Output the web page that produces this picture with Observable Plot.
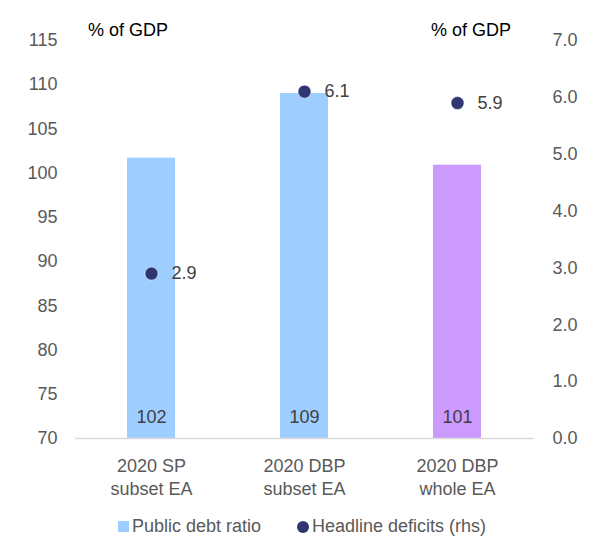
<!DOCTYPE html>
<html>
<head>
<meta charset="utf-8">
<script src="https://cdn.jsdelivr.net/npm/d3@7"></script>
<script src="https://cdn.jsdelivr.net/npm/@observablehq/plot@0.6"></script>
<style>
  body { margin: 0; background: #fff; font-family: "Liberation Sans", Arial, sans-serif; }
  #wrap { position: relative; width: 592px; }
  .unit { position: absolute; top: 20px; font-size: 18px; color: #000; }
  #legend { display: flex; justify-content: center; gap: 36px; font-size: 18px; color: #595959; margin-top: 14px; padding-left: 12px; }
  #legend span.item { display: flex; align-items: center; gap: 3px; }
  .sw { display: inline-block; width: 11px; height: 11px; }
  .dot { display: inline-block; width: 12px; height: 12px; border-radius: 50%; }
</style>
</head>
<body>
<div id="wrap">
  <div class="unit" style="left:88px">% of GDP</div>
  <div class="unit" style="left:431px">% of GDP</div>
  <div id="chart"></div>
  <div id="legend"></div>
</div>
<script>
// Public debt ratio and headline deficit, % of GDP
const categories = ["2020 SP\nsubset EA", "2020 DBP\nsubset EA", "2020 DBP\nwhole EA"];
const debtRatio = [101.7, 109.0, 100.9];
const deficits = [2.9, 6.1, 5.9];
const barColors = ["#9DCEFF", "#9DCEFF", "#CC99FF"];
const leftTicks = [70, 75, 80, 85, 90, 95, 100, 105, 110, 115];
const rightTicks = [0, 1, 2, 3, 4, 5, 6, 7];

const seriesNames = ["Public debt ratio", "Headline deficits (rhs)"];
const dotColor = "#2F3670";

// left axis 70–115, right axis 0–7 mapped onto it
const yMin = 70, yMax = 115, rMin = 0, rMax = 7;
const toLeft = v => yMin + (v - rMin) * (yMax - yMin) / (rMax - rMin);

const rows = categories.map((c, i) => ({
  cat: c, debt: debtRatio[i], deficit: deficits[i], color: barColors[i]
}));

const chart = Plot.plot({
  width: 592,
  height: 502,
  marginLeft: 75,
  marginRight: 58,
  marginTop: 40,
  marginBottom: 64,
  style: { fontFamily: "Liberation Sans, Arial, sans-serif", fontSize: "18px", color: "#595959" },
  x: { domain: categories, paddingInner: 0.686, paddingOuter: 0.343, align: 0.5, axis: null, label: null },
  y: { domain: [yMin, yMax], axis: null, label: null },
  marks: [
    Plot.barY(rows, { x: "cat", y1: yMin, y2: "debt", fill: "color" }),
    Plot.ruleY([yMin], { stroke: "#D9D9D9", strokeWidth: 1.5 }),
    Plot.axisY(leftTicks, { anchor: "left", label: null, tickSize: 0, tickPadding: 18, fill: "#595959", fontSize: 18 }),
    Plot.axisY(rightTicks.map(toLeft), {
      anchor: "right", label: null, tickSize: 0, tickPadding: 18, fill: "#595959", fontSize: 18,
      tickFormat: d => d3.format(".1f")((d - yMin) * (rMax - rMin) / (yMax - yMin))
    }),
    Plot.axisX({ anchor: "bottom", label: null, tickSize: 0, tickPadding: 17, lineHeight: 1.27, fill: "#595959", fontSize: 18 }),
    Plot.text(rows, { x: "cat", y: () => yMin, dy: -21, text: d => d3.format(".0f")(d.debt), fill: "#404040", fontSize: 18 }),
    Plot.dot(rows, { x: "cat", y: d => toLeft(d.deficit), r: 6.5, fill: dotColor, stroke: "#fff", strokeWidth: 0.5 }),
    Plot.text(rows, { x: "cat", y: d => toLeft(d.deficit), dx: 20, text: d => d3.format(".1f")(d.deficit), textAnchor: "start", fill: "#404040", fontSize: 18 })
  ]
});
document.getElementById("chart").appendChild(chart);

const legend = document.getElementById("legend");
legend.innerHTML =
  `<span class="item"><span class="sw" style="background:${barColors[0]}"></span>${seriesNames[0]}</span>` +
  `<span class="item"><span class="dot" style="background:${dotColor}"></span>${seriesNames[1]}</span>`;
</script>
</body>
</html>
